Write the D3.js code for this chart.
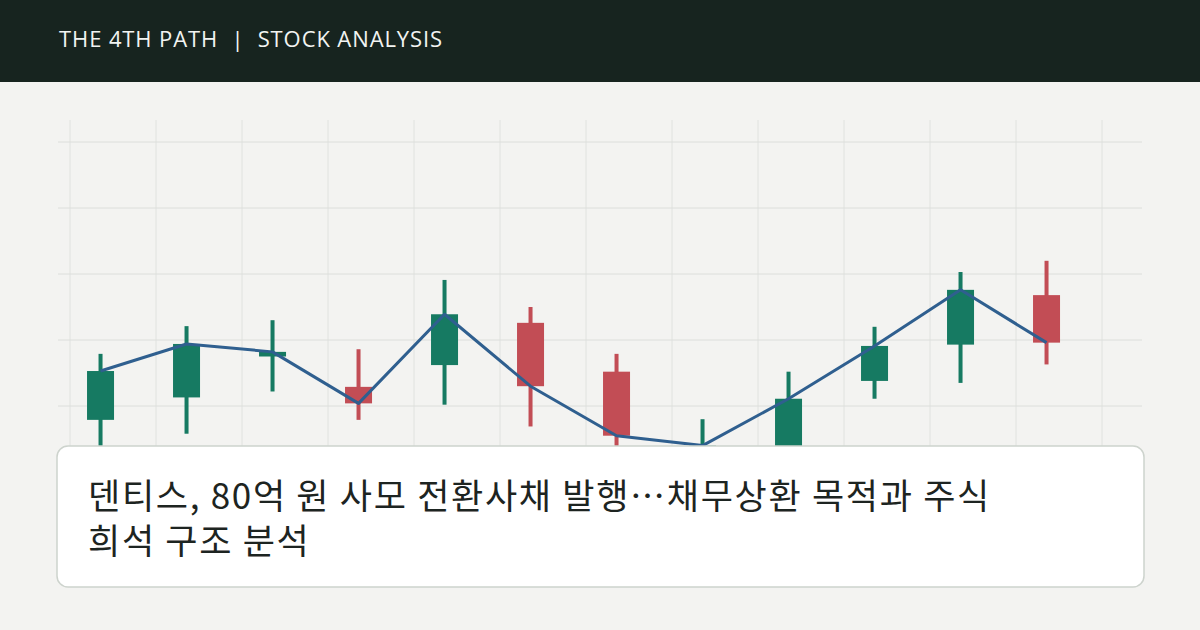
<!DOCTYPE html>
<html><head><meta charset="utf-8">
<script src="https://cdn.jsdelivr.net/npm/d3@7/dist/d3.min.js"></script>
<style>
html,body{margin:0;padding:0;background:#f3f3f1;}
svg{display:block;}
</style></head>
<body>
<svg id="chart" width="1200" height="630"></svg>
<script>
const brand = "THE 4TH PATH  |  STOCK ANALYSIS";
const titleLines = ["덴티스, 80억 원 사모 전환사채 발행…채무상환 목적과 주식", "희석 구조 분석"];
const periods = [0,1,2,3,4,5,6,7,8,9,10,11];
const opens  = [97.9, 101.3, 107.5, 102.9, 106.2, 112.6, 105.2, 92.6, 90.3, 103.8, 109.3, 116.8];
const highs  = [107.9, 112.1, 113.0, 108.6, 119.1, 115.0, 107.9, 98.0, 105.2, 112.0, 120.3, 122.0];
const lows   = [93.5, 95.8, 102.2, 97.9, 100.2, 96.9, 93.3, 90.3, 88.8, 101.1, 103.5, 106.3];
const closes = [105.3, 109.4, 108.2, 100.4, 113.9, 103.0, 95.5, 94.0, 101.1, 109.1, 117.6, 109.6];
const yTicks = [90, 100, 110, 120, 130, 140];
const xGrid = [0,1,2,3,4,5,6,7,8,9,10,11,12];

const svg = d3.select("#chart");
const W = 1200, H = 630;
svg.append("rect").attr("width", W).attr("height", H).attr("fill", "#f3f3f1");

const x = d3.scaleLinear().domain([0, 12]).range([70, 1102]);
const y = d3.scaleLinear().domain([100, 140]).range([406, 142]);
const cx = i => x(i + 0.355);

const grid = svg.append("g");
grid.selectAll("line.v").data(xGrid).join("line")
  .attr("x1", d => x(d)).attr("x2", d => x(d))
  .attr("y1", 120).attr("y2", 560)
  .attr("stroke", "#e0e2df").attr("stroke-width", 1);
grid.selectAll("line.h").data(yTicks).join("line")
  .attr("x1", 58).attr("x2", 1142)
  .attr("y1", d => y(d)).attr("y2", d => y(d))
  .attr("stroke", "#dcdedb").attr("stroke-width", 1);

const data = periods.map(i => ({i, o: opens[i], h: highs[i], l: lows[i], c: closes[i]}));
const up = "#167a62", down = "#c24d55";
const cg = svg.append("g");
cg.selectAll("rect.wick").data(data).join("rect")
  .attr("x", d => cx(d.i) - 2).attr("width", 4)
  .attr("y", d => y(d.h)).attr("height", d => y(d.l) - y(d.h))
  .attr("fill", d => d.c >= d.o ? up : down);
cg.selectAll("rect.body").data(data).join("rect")
  .attr("x", d => cx(d.i) - 13.5).attr("width", 27)
  .attr("y", d => y(Math.max(d.o, d.c)))
  .attr("height", d => Math.max(1, Math.abs(y(d.o) - y(d.c))))
  .attr("fill", d => d.c >= d.o ? up : down);

svg.append("path").datum(data)
  .attr("d", d3.line().x(d => cx(d.i)).y(d => y(d.c)))
  .attr("fill", "none").attr("stroke", "#2f5f8f").attr("stroke-width", 3)
  .attr("stroke-linejoin", "round");

// header
svg.append("rect").attr("x", 0).attr("y", 0).attr("width", W).attr("height", 82).attr("fill", "#17241f");
svg.append("text").attr("x", 59).attr("y", 47)
  .attr("font-family", "'Open Sans', 'Noto Sans', sans-serif").attr("font-size", 22)
  .attr("letter-spacing", 0.9).attr("fill", "#f2f4f2")
  .attr("xml:space", "preserve").style("white-space", "pre")
  .text(brand);

// card
svg.append("rect").attr("x", 57).attr("y", 446).attr("width", 1087).attr("height", 141)
  .attr("rx", 11).attr("fill", "#ffffff").attr("stroke", "#cdd3cd").attr("stroke-width", 1.5);
svg.selectAll("text.title").data(titleLines).join("text")
  .attr("class", "title")
  .attr("x", 88).attr("y", (d, k) => 509 + k * 45)
  .attr("font-family", "'Noto Sans CJK KR', 'Noto Sans', sans-serif").attr("font-size", 35)
  .attr("letter-spacing", 1.7).attr("fill", "#1d2421")
  .text(d => d);
</script>
</body></html>
